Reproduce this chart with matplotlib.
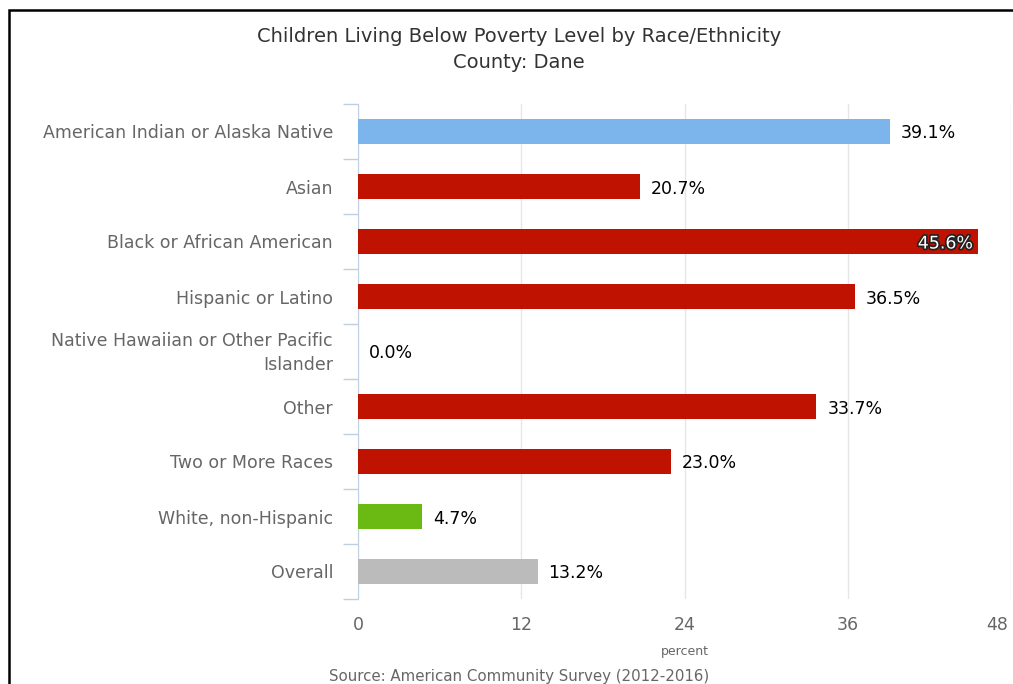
import matplotlib
matplotlib.use('Agg')
import matplotlib.pyplot as plt
import matplotlib.patches as patches
import matplotlib.patheffects as pe
import matplotlib.transforms as mtransforms

categories = ['American Indian or Alaska Native', 'Asian', 'Black or African American',
              'Hispanic or Latino', 'Native Hawaiian or Other Pacific\nIslander', 'Other',
              'Two or More Races', 'White, non-Hispanic', 'Overall']
values = [39.1, 20.7, 45.6, 36.5, 0.0, 33.7, 23.0, 4.7, 13.2]
bar_colors = ['#7cb5ec', '#bf1200', '#bf1200', '#bf1200', '#bf1200', '#bf1200',
              '#bf1200', '#6bba13', '#bbbbbb']
x_ticks = [0, 12, 24, 36, 48]

W, H = 1013, 684
fig = plt.figure(figsize=(W / 100, H / 100), dpi=100)
ax = fig.add_axes([358 / W, 1 - 599 / H, 653 / W, 495 / H])

positions = list(range(len(categories)))
ax.barh(positions, values, height=0.45, color=bar_colors, zorder=3)
ax.set_ylim(len(categories) - 0.5, -0.5)
ax.set_xlim(0, 48)

# value labels
for p, v in zip(positions, values):
    if v > 44:
        ax.text(v - 0.4, p, f'{v:.1f}%', ha='right', va='center_baseline', fontsize=12.5,
                color='white', zorder=4,
                path_effects=[pe.withStroke(linewidth=2.5, foreground='#222222')])
    else:
        ax.text(v + 0.8, p, f'{v:.1f}%', ha='left', va='center_baseline', fontsize=12.5,
                color='black', zorder=4)

ax.set_yticks(positions)
ax.set_yticklabels(categories, fontsize=12.5, color='#666666', linespacing=1.45)
ax.set_yticks([p - 0.5 for p in positions] + [len(categories) - 0.5], minor=True)
ax.tick_params(axis='y', which='major', length=0, pad=18)
ax.tick_params(axis='y', which='minor', length=11, color='#c0d0e0', width=1)
two_line = ax.get_yticklabels()[4]
two_line.set_transform(two_line.get_transform() + mtransforms.ScaledTranslation(0, 4 / 100, fig.dpi_scale_trans))

ax.set_xticks(x_ticks)
ax.set_xticklabels([str(t) for t in x_ticks], fontsize=12.5, color='#666666')
ax.tick_params(axis='x', length=0, pad=12)
last = ax.get_xticklabels()[-1]
last.set_ha('right')
last.set_transform(last.get_transform() + mtransforms.ScaledTranslation(-3 / 100, 0, fig.dpi_scale_trans))
ax.grid(axis='x', color='#e6e6e6', linewidth=1, zorder=0)
ax.set_xlabel('percent', fontsize=9, color='#666666', labelpad=8)

for s in ['top', 'right', 'bottom']:
    ax.spines[s].set_visible(False)
ax.spines['left'].set_color('#c0d0e0')

fig.text(519 / W, 1 - 37 / H, 'Children Living Below Poverty Level by Race/Ethnicity',
         ha='center', va='center', fontsize=14, color='#333333')
fig.text(519 / W, 1 - 62 / H, 'County: Dane', ha='center', va='center',
         fontsize=14, color='#333333')
fig.text(519 / W, 1 - 677 / H, 'Source: American Community Survey (2012-2016)',
         ha='center', va='center', fontsize=10.8, color='#666666')

# outer frame
fig.patches.append(patches.Rectangle((9 / W, -0.1), 1.2, 1.1 - 10 / H, fill=False,
                                     edgecolor='black', linewidth=1.8,
                                     transform=fig.transFigure, figure=fig))

fig.savefig('out.png', dpi=100)
